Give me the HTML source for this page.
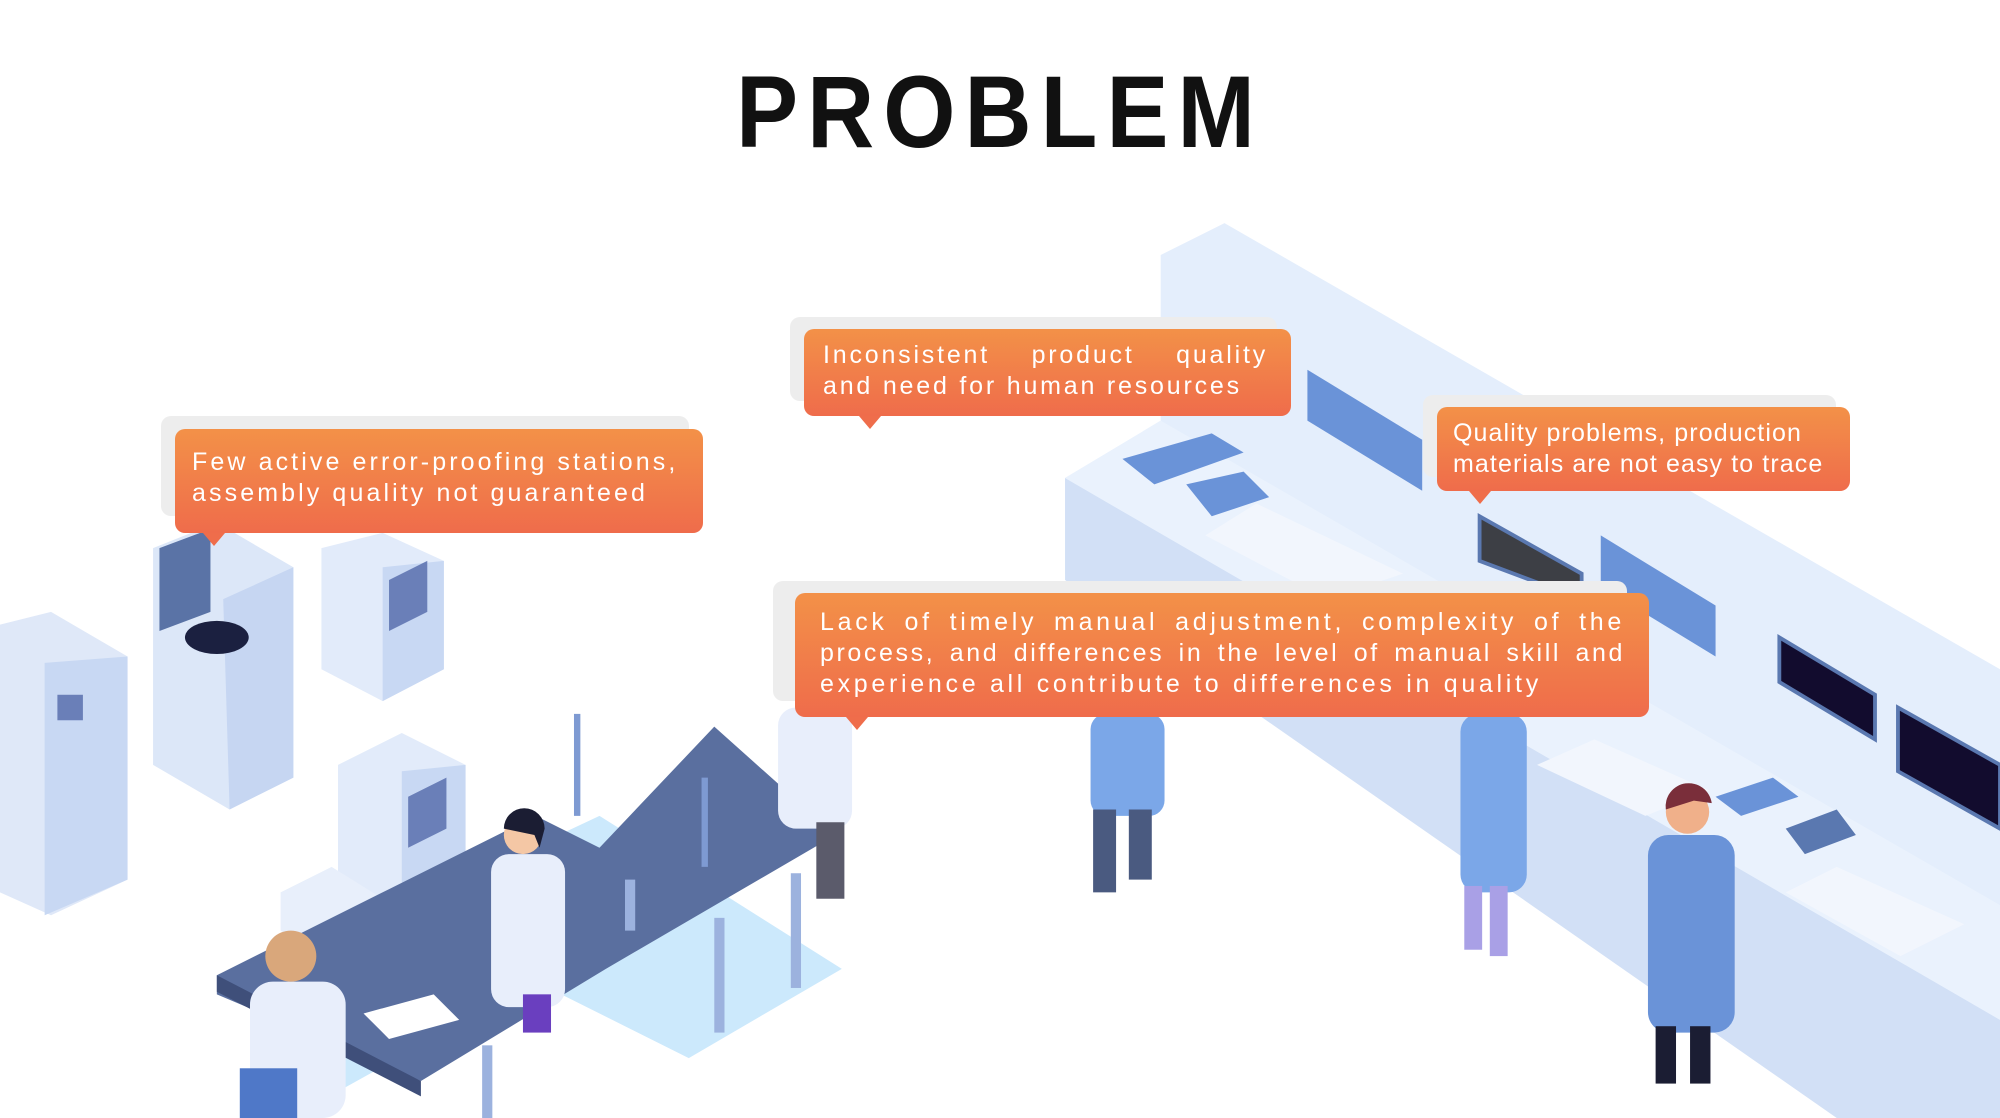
<!DOCTYPE html>
<html><head><meta charset="utf-8"><style>
html,body{margin:0;padding:0;background:#fff;}
#wrap{position:relative;width:2000px;height:1118px;overflow:hidden;background:#fff;font-family:"Liberation Sans",sans-serif;}
svg{position:absolute;left:0;top:0;}
.title{position:absolute;left:0;width:2000px;top:52px;text-align:center;font-size:102px;font-weight:bold;letter-spacing:10px;color:#111;line-height:120px;transform:scaleX(0.91);transform-origin:1000px 0;}
.sh{position:absolute;background:#ededed;border-radius:10px;}
.co{position:absolute;border-radius:10px;background:linear-gradient(#f39148,#ef6c4b);color:#fff;box-sizing:border-box;}
.co .ln{position:absolute;white-space:nowrap;font-size:25px;line-height:31px;}
.j{text-align:justify;text-align-last:justify;white-space:normal!important;}
.ptr{position:absolute;width:0;height:0;border-left:11px solid transparent;border-right:11px solid transparent;border-top:13px solid #ef6d4b;}
</style></head><body><div id="wrap">
<svg width="2000" height="1118" viewBox="0 0 1568 877" preserveAspectRatio="none">
<polygon points="910,200 960,175 1568,525 1568,877 1450,877 835,450 835,375 910,330" fill="#e4eefc"/>
<polygon points="835,375 1568,800 1568,877 1440,877 835,455" fill="#d2e0f6"/>
<polygon points="835,375 910,330 1568,710 1568,800" fill="#eaf2fd"/>
<polygon points="1025,290 1115,345 1115,385 1025,330" fill="#6a93d8"/>
<polygon points="1255,420 1345,475 1345,515 1255,460" fill="#6a93d8"/>
<polygon points="1395,500 1470,545 1470,580 1395,535" fill="#120c2e" stroke="#5a78b0" stroke-width="3"/>
<polygon points="1488,555 1568,600 1568,650 1488,605" fill="#120c2e" stroke="#5a78b0" stroke-width="3"/>
<polygon points="1160,405 1240,450 1240,470 1160,440" fill="#3d3f45" stroke="#5a78b0" stroke-width="3"/>
<polygon points="880,360 950,340 975,355 905,380" fill="#6a93d8"/>
<polygon points="930,380 975,370 995,390 950,405" fill="#6a93d8"/>
<polygon points="1345,625 1390,610 1410,625 1365,640" fill="#6a93d8"/>
<polygon points="1400,650 1440,635 1455,655 1415,670" fill="#5a78b0"/>
<polygon points="985,395 1100,450 1040,470 945,420" fill="#f2f6fd"/>
<polygon points="1250,580 1340,620 1290,640 1205,600" fill="#f2f6fd"/>
<polygon points="1440,680 1540,725 1490,750 1400,700" fill="#f2f6fd"/>
<polygon points="300,720 470,640 660,760 540,830 420,770 240,870" fill="#cce9fc"/>
<polygon points="0,490 40,480 100,515 100,690 40,718 0,700" fill="#dfe8f8"/>
<polygon points="35,520 100,515 100,690 35,718" fill="#c8d8f3"/>
<rect x="45" y="545" width="20" height="20" fill="#6a7fb8"/>
<polygon points="120,430 170,410 230,445 230,610 180,635 120,600" fill="#dce7f8"/>
<polygon points="175,470 230,445 230,610 180,635" fill="#c6d6f2"/>
<ellipse cx="170" cy="500" rx="25" ry="13" fill="#1b2040"/>
<polygon points="125,430 165,415 165,480 125,495" fill="#5a73a6"/>
<polygon points="252,430 300,418 348,440 348,525 300,550 252,525" fill="#e2ebfa"/>
<polygon points="300,445 348,440 348,525 300,550" fill="#c8d8f3"/>
<polygon points="305,455 335,440 335,480 305,495" fill="#6a7fb8"/>
<polygon points="265,600 315,575 365,600 365,690 315,715 265,690" fill="#e2ebfa"/>
<polygon points="315,605 365,600 365,690 315,715" fill="#c8d8f3"/>
<polygon points="320,625 350,610 350,650 320,665" fill="#6a7fb8"/>
<polygon points="220,700 260,680 300,705 300,735 260,755 220,730" fill="#e8effb"/>
<polygon points="170,765 420,640 470,665 560,570 655,655 475,760 330,848 170,780" fill="#5a6f9f"/>
<polygon points="170,765 330,848 330,860 170,778" fill="#3f4f7a"/>
<rect x="490" y="690" width="8" height="40" fill="#9cb2de"/><rect x="560" y="720" width="8" height="90" fill="#9cb2de"/>
<rect x="620" y="685" width="8" height="90" fill="#9cb2de"/><rect x="378" y="820" width="8" height="57" fill="#9cb2de"/>
<rect x="450" y="560" width="5" height="80" fill="#7e9ad2"/><rect x="550" y="610" width="5" height="70" fill="#7e9ad2"/>
<polygon points="285,795 340,780 360,800 305,815" fill="#fff"/>
<rect x="855" y="560" width="58" height="80" rx="12" fill="#7ba7e8"/>
<rect x="857" y="635" width="18" height="65" fill="#4a5a80"/><rect x="885" y="635" width="18" height="55" fill="#4a5a80"/>
<rect x="1145" y="560" width="52" height="140" rx="14" fill="#7ba7e8"/>
<rect x="1148" y="695" width="14" height="50" fill="#a9a0e6"/><rect x="1168" y="695" width="14" height="55" fill="#a9a0e6"/>
<rect x="1292" y="655" width="68" height="155" rx="16" fill="#6a93d8"/>
<circle cx="1323" cy="637" r="17" fill="#f0b08a"/><path d="M1306,635 a18,18 0 0 1 36,-5 l-14,-2 z" fill="#7a2e3a"/>
<rect x="1298" y="805" width="16" height="45" fill="#1b1d33"/><rect x="1325" y="805" width="16" height="45" fill="#1b1d33"/>
<rect x="385" y="670" width="58" height="120" rx="14" fill="#e8eefb"/>
<rect x="410" y="780" width="22" height="30" fill="#6a3fbf"/>
<circle cx="410" cy="655" r="15" fill="#f4c7a5"/><path d="M395,650 a16,16 0 0 1 32,0 l-4,15 l-4,-10 z" fill="#1b1d33"/>
<rect x="196" y="770" width="75" height="107" rx="18" fill="#e8eefb"/>
<circle cx="228" cy="750" r="20" fill="#d9a77b"/>
<rect x="188" y="838" width="45" height="39" fill="#4f78c8"/>
<rect x="610" y="555" width="58" height="95" rx="14" fill="#e8eefb"/>
<rect x="640" y="645" width="22" height="60" fill="#5b5b6b"/>
</svg>
<div class="title">PROBLEM</div>

<div class="sh" style="left:161px;top:416px;width:528px;height:100px"></div>
<div class="co" style="left:175px;top:429px;width:528px;height:104px">
<div class="ln" style="left:17px;top:18px;letter-spacing:3.1px">Few active error-proofing stations,</div>
<div class="ln" style="left:17px;top:49px;letter-spacing:3.1px">assembly quality not guaranteed</div></div>
<div class="ptr" style="left:203px;top:533px"></div>

<div class="sh" style="left:790px;top:317px;width:487px;height:84px"></div>
<div class="co" style="left:804px;top:329px;width:487px;height:87px">
<div class="ln j" style="left:19px;top:11px;width:445px;letter-spacing:2.8px">Inconsistent product quality</div>
<div class="ln" style="left:19px;top:42px;letter-spacing:2.8px">and need for human resources</div></div>
<div class="ptr" style="left:859px;top:416px"></div>

<div class="sh" style="left:1423px;top:395px;width:413px;height:82px"></div>
<div class="co" style="left:1437px;top:407px;width:413px;height:84px">
<div class="ln" style="left:16px;top:11px;letter-spacing:1.1px">Quality problems, production</div>
<div class="ln" style="left:16px;top:42px;letter-spacing:1.1px">materials are not easy to trace</div></div>
<div class="ptr" style="left:1469px;top:491px"></div>

<div class="sh" style="left:773px;top:581px;width:854px;height:120px"></div>
<div class="co" style="left:795px;top:593px;width:854px;height:124px">
<div class="ln j" style="left:25px;top:14px;width:805px;letter-spacing:3.7px">Lack of timely manual adjustment, complexity of the</div>
<div class="ln j" style="left:25px;top:45px;width:805px;letter-spacing:2.6px">process, and differences in the level of manual skill and</div>
<div class="ln" style="left:25px;top:76px;letter-spacing:3.7px">experience all contribute to differences in quality</div></div>
<div class="ptr" style="left:846px;top:717px"></div>
</div></body></html>
